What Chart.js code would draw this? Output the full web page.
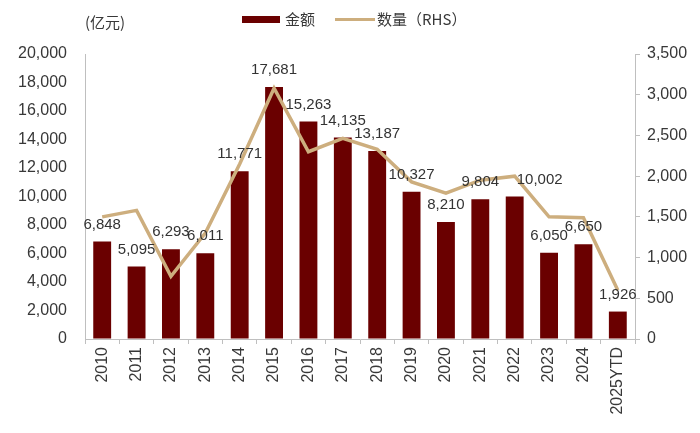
<!DOCTYPE html>
<html>
<head>
<meta charset="utf-8">
<script src="https://cdn.jsdelivr.net/npm/chart.js@4"></script>
<style>
  html, body { margin: 0; padding: 0; background: #fff; }
  #wrap { width: 700px; height: 433px; position: relative; }
</style>
</head>
<body>
<div id="wrap"><canvas id="chart"></canvas></div>
<script>
// Chart data
const years = ['2010', '2011', '2012', '2013', '2014', '2015', '2016', '2017',
  '2018', '2019', '2020', '2021', '2022', '2023', '2024', '2025YTD'];
const amount = [6848, 5095, 6293, 6011, 11771, 17681, 15263, 14135,
  13187, 10327, 8210, 9804, 10002, 6050, 6650, 1926];
const count = [1500, 1580, 770, 1300, 2150, 3080, 2300, 2465,
  2330, 1930, 1790, 1950, 2000, 1500, 1490, 600];
const leftTicks = [0, 2000, 4000, 6000, 8000, 10000, 12000, 14000, 16000, 18000, 20000];
const rightTicks = [0, 500, 1000, 1500, 2000, 2500, 3000, 3500];

const barColor = '#6a0000';
const lineColor = '#cdae7e';
const axisColor = '#bfbfbf';
const textColor = '#383838';
const latin = '"Liberation Sans", Arial, sans-serif';
const cjk = '"Noto Sans CJK SC", "Liberation Sans", sans-serif';

const fmt = v => v.toLocaleString('en-US');

// labels drawn above each bar, with a nudge where the original moved one aside
const labelNudge = { '2022': 25 };
const barLabels = {
  id: 'barLabels',
  afterDatasetsDraw(chart) {
    const ctx = chart.ctx;
    const meta = chart.getDatasetMeta(0);
    ctx.save();
    ctx.font = '15px ' + latin;
    ctx.fillStyle = '#333';
    ctx.textAlign = 'center';
    ctx.textBaseline = 'middle';
    meta.data.forEach((bar, i) => {
      const dx = labelNudge[years[i]] || 0;
      ctx.fillText(fmt(amount[i]), bar.x + dx, bar.y - 17);
    });
    ctx.restore();
  }
};

// unit label and legend at the top
const header = {
  id: 'header',
  afterDraw(chart) {
    const ctx = chart.ctx;
    ctx.save();
    ctx.textBaseline = 'middle';
    ctx.fillStyle = textColor;
    ctx.font = '15px ' + cjk;
    ctx.fillText('(亿元)', 85, 22);

    ctx.fillStyle = barColor;
    ctx.fillRect(242, 16, 38, 7);
    ctx.fillStyle = textColor;
    ctx.fillText('金额', 285, 19);

    ctx.strokeStyle = lineColor;
    ctx.lineWidth = 3;
    ctx.beginPath();
    ctx.moveTo(335, 19.5);
    ctx.lineTo(375, 19.5);
    ctx.stroke();
    ctx.fillText('数量（RHS）', 377, 19);
    ctx.restore();
  }
};

const ctx = document.getElementById('chart').getContext('2d');
new Chart(ctx, {
  type: 'bar',
  data: {
    labels: years,
    datasets: [
      {
        label: '金额',
        data: amount,
        backgroundColor: barColor,
        yAxisID: 'y',
        barPercentage: 0.52,
        categoryPercentage: 1,
        order: 2
      },
      {
        label: '数量（RHS）',
        type: 'line',
        data: count,
        borderColor: lineColor,
        borderWidth: 3.5,
        pointRadius: 0,
        tension: 0,
        yAxisID: 'y1',
        order: 1
      }
    ]
  },
  options: {
    responsive: true,
    maintainAspectRatio: false,
    animation: false,
    devicePixelRatio: 1,
    layout: { padding: { top: 54, left: 0, right: 0, bottom: 0 } },
    plugins: {
      legend: { display: false },
      tooltip: { enabled: false }
    },
    scales: {
      x: {
        grid: { display: true, drawOnChartArea: false, offset: true, tickLength: 5, color: axisColor },
        border: { color: axisColor },
        ticks: { minRotation: 90, maxRotation: 90, padding: 3, color: textColor, font: { size: 16, family: latin } },
        afterFit(scale) { scale.height = 94; }
      },
      y: {
        position: 'left',
        min: 0,
        max: 20000,
        afterBuildTicks(scale) { scale.ticks = leftTicks.map(v => ({ value: v })); },
        grid: { drawOnChartArea: false, drawTicks: false },
        border: { color: axisColor },
        ticks: { padding: 18, color: textColor, font: { size: 16, family: latin }, callback: v => fmt(v) },
        afterFit(scale) { scale.width = 85; }
      },
      y1: {
        position: 'right',
        min: 0,
        max: 3500,
        afterBuildTicks(scale) { scale.ticks = rightTicks.map(v => ({ value: v })); },
        grid: { drawOnChartArea: false, tickLength: 5, color: axisColor },
        border: { color: axisColor },
        ticks: { padding: 7, color: textColor, font: { size: 16, family: latin }, callback: v => fmt(v) },
        afterFit(scale) { scale.width = 65; }
      }
    }
  },
  plugins: [barLabels, header]
});
</script>
</body>
</html>
